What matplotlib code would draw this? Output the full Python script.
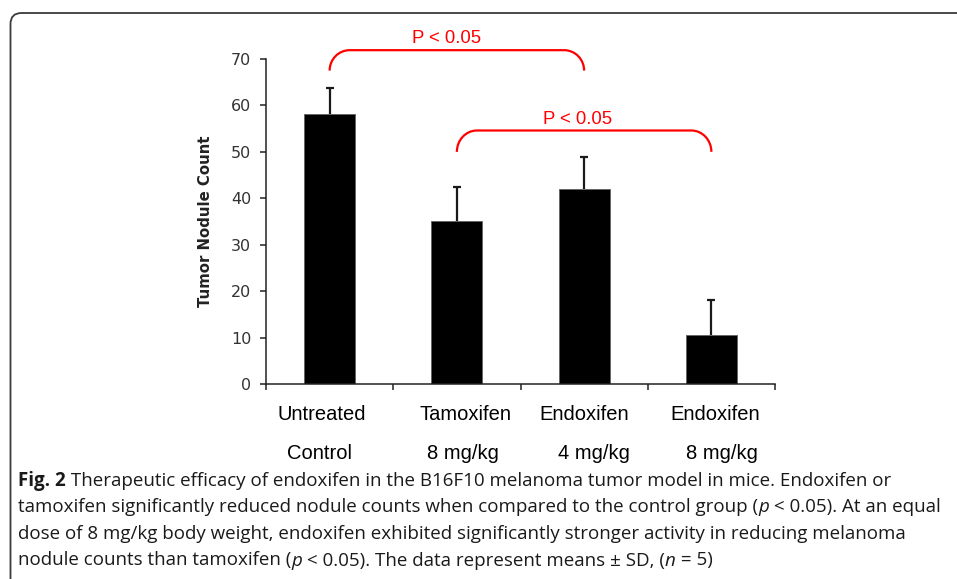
import matplotlib
matplotlib.use('Agg')
import matplotlib.pyplot as plt
from matplotlib.path import Path
from matplotlib.patches import PathPatch, FancyBboxPatch
from matplotlib.transforms import IdentityTransform
import numpy as np

# ---------------- data ----------------
groups_line1 = ['Untreated', 'Tamoxifen', 'Endoxifen', 'Endoxifen']
groups_line2 = ['Control', '8 mg/kg', '4 mg/kg', '8 mg/kg']
means = [58.2, 35.2, 42.0, 10.6]
sd = [5.5, 7.2, 6.8, 7.4]
yticks = [0, 10, 20, 30, 40, 50, 60, 70]
comparisons = [(0, 2), (1, 3)]
comparison_labels = ['P < 0.05', 'P < 0.05']
ylabel = 'Tumor Nodule Count'

caption_lines = [
    [('Fig. 2', 'bold'), (' Therapeutic efficacy of endoxifen in the B16F10 melanoma tumor model in mice. Endoxifen or', 'normal')],
    [('tamoxifen significantly reduced nodule counts when compared to the control group (', 'normal'), ('p', 'italic'),
     (' < 0.05). At an equal', 'normal')],
    [('dose of 8 mg/kg body weight, endoxifen exhibited significantly stronger activity in reducing melanoma', 'normal')],
    [('nodule counts than tamoxifen (', 'normal'), ('p', 'italic'), (' < 0.05). The data represent means \u00b1 SD, (', 'normal'),
     ('n', 'italic'), (' = 5)', 'normal')],
]

# ---------------- layout / style ----------------
W, H = 957, 579
DPI = 100
bracket_levels = [(67.5, 71.9), (50.0, 54.6)]   # (bottom, top) in data units
bracket_text_y = [73.4, 56.1]
bracket_text_dx = [-0.08, -0.05]
label_dx1 = [-0.06, 0.07, 0.0, 0.03]
label_dx2 = [-0.08, 0.05, 0.08, 0.08]

fig = plt.figure(figsize=(W / DPI, H / DPI), dpi=DPI)
fig.patch.set_facecolor('white')

# frame around figure panel
frame = FancyBboxPatch((10.5, -60), 1100, 566 + 60, boxstyle='round,pad=0,rounding_size=11',
                       transform=IdentityTransform(), facecolor='none', edgecolor='#3a3a3a',
                       linewidth=1.3)
fig.add_artist(frame)

ax = fig.add_axes([266 / W, 195 / H, 509 / W, 325 / H])
x = np.arange(len(means))
m = np.array(means)
s_ = np.array(sd)
ax.bar(x, m, width=0.40, color='black', edgecolor='#666666', linewidth=0.7, zorder=2)
# upper-only error bars
ax.vlines(x, m, m + s_, color='#1a1a1a', linewidth=1.6, zorder=3)
ax.plot(x, m + s_, linestyle='none', marker='_', markersize=5.2, markeredgewidth=1.6,
        color='#1a1a1a', zorder=3)

ax.set_xlim(-0.5, len(means) - 0.5)
ax.set_ylim(0, 70)
ax.set_yticks(yticks)
ax.set_xticks(np.arange(-0.5, len(means), 1.0))
ax.set_xticklabels([])
for s in ['top', 'right']:
    ax.spines[s].set_visible(False)
for s in ['left', 'bottom']:
    ax.spines[s].set_linewidth(1.1)
    ax.spines[s].set_color('#222222')
ax.tick_params(axis='both', direction='out', length=4.5, width=1.1, color='#222222')
ax.tick_params(axis='y', labelsize=11.5, pad=6, labelcolor='#333333')
for lab in ax.get_yticklabels():
    lab.set_family('DejaVu Sans')

ax.set_ylabel(ylabel, fontsize=10.7, fontweight='bold', family='DejaVu Sans', color='#222222')
ax.yaxis.set_label_coords(-0.104, 0.5)

# category labels (two rows)
tr = ax.get_xaxis_transform()
for i in range(len(means)):
    ax.text(x[i] + label_dx1[i], -0.1108, groups_line1[i], transform=tr, ha='center', va='baseline',
            fontsize=14.5, family='Liberation Sans', color='black')
    ax.text(x[i] + label_dx2[i], -0.2308, groups_line2[i], transform=tr, ha='center', va='baseline',
            fontsize=14.5, family='Liberation Sans', color='black')

# significance brackets
rx = 20 / 127.3
k = 0.5523
for (a, b), (yb, yt), lbl, ty, dx in zip(comparisons, bracket_levels, comparison_labels,
                                          bracket_text_y, bracket_text_dx):
    ry = yt - yb
    verts = [(a, yb),
             (a, yb + k * ry), (a + rx - k * rx, yt), (a + rx, yt),
             (b - rx, yt),
             (b - rx + k * rx, yt), (b, yb + k * ry), (b, yb)]
    codes = [Path.MOVETO, Path.CURVE4, Path.CURVE4, Path.CURVE4, Path.LINETO,
             Path.CURVE4, Path.CURVE4, Path.CURVE4]
    ax.add_patch(PathPatch(Path(verts, codes), facecolor='none', edgecolor='#ff0000',
                           linewidth=1.6, clip_on=False, zorder=4))
    ax.text((a + b) / 2 + dx, ty, lbl, ha='center', va='baseline', fontsize=13.3,
            family='Liberation Sans', color='#ff0000', clip_on=False)

# ---------------- caption ----------------
fig.canvas.draw()
renderer = fig.canvas.get_renderer()
cap_family = 'Open Sans'


def props(style, size):
    d = dict(fontsize=size, family=cap_family, color='#1a1a1a')
    if style == 'bold':
        d['fontweight'] = 'bold'
    elif style == 'italic':
        d['fontstyle'] = 'italic'
    return d


def seg_width(s, style, size):
    t1 = fig.text(0, 0, '|' + s + '|', **props(style, size))
    t2 = fig.text(0, 0, '||', **props(style, size))
    w = t1.get_window_extent(renderer).width - t2.get_window_extent(renderer).width
    t1.remove()
    t2.remove()
    return w


ref_size = 10.0
ref_w = sum(seg_width(s, st, ref_size) for s, st in caption_lines[1])
cap_size = ref_size * 924.0 / ref_w

x0 = 18.0
baselines = [486, 512.5, 539, 565.5]
for line, base in zip(caption_lines, baselines):
    xp = x0
    for s, st in line:
        fig.text(xp / W, 1 - base / H, s, ha='left', va='baseline', **props(st, cap_size))
        xp += seg_width(s, st, cap_size)

fig.savefig('out.png', dpi=DPI, facecolor='white')
